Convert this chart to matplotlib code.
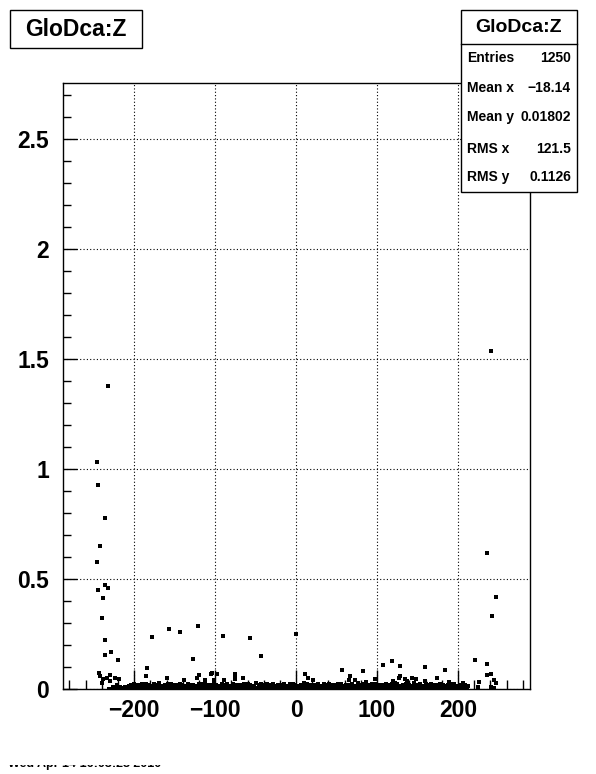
import numpy as np
import matplotlib.pyplot as plt
from matplotlib.patches import Rectangle
from matplotlib.ticker import MultipleLocator

# Pontos isolados (fora da faixa densa)
out_x = [-232.5, -246.5, -245.3, -236.6, -242.8, -246.5, -236.6, -233.0, -245.3, -239.0,
         -240.4, 241.0, 236.2, 247.3, 242.3,
         -236.6, -236.0, -229.0, -220.6, -244.0, -242.0, -230.5, -238.0, -233.7, -240.0,
         -230.5, -224.0, -219.0, -231.7, -225.5, -221.0, -184.8, -186.0, -178.6, -157.6,
         -143.0, -159.6, -120.6, -89.7, -56.4, -42.8, -126.8, -119.4, -121.9, -104.6,
         -103.3, -97.2, -75.0, -75.0, -76.0, -65.0, -113.0, -102.0, -88.5, -139.0,
         0.4, 11.5, 15.2, 21.4, 57.2, 67.0, 65.8, 73.2, 83.1, 97.9,
         107.8, 118.9, 128.8, 128.8, 127.5, 135.0, 137.4, 120.0, 122.6, 86.8,
         159.6, 184.3, 174.4, 221.4, 236.2, 236.2, 241.1, 244.8, 247.3, 226.3,
         225.0, 241.0, 244.8, 143.6, 148.5, 159.6, 189.3, 206.5]
out_y = [1.376, 1.030, 0.926, 0.776, 0.649, 0.576, 0.471, 0.458, 0.449, 0.412,
         0.321, 1.535, 0.617, 0.420, 0.333,
         0.221, 0.155, 0.167, 0.130, 0.071, 0.059, 0.062, 0.044, 0.050, 0.026,
         0.035, 0.049, 0.047, 0.001, 0.003, 0.018, 0.094, 0.059, 0.236, 0.271,
         0.258, 0.049, 0.285, 0.240, 0.230, 0.149, 0.135, 0.062, 0.049, 0.070,
         0.071, 0.067, 0.067, 0.053, 0.044, 0.049, 0.040, 0.040, 0.040, 0.040,
         0.249, 0.067, 0.049, 0.040, 0.085, 0.058, 0.040, 0.040, 0.080, 0.044,
         0.108, 0.126, 0.103, 0.058, 0.049, 0.044, 0.035, 0.035, 0.026, 0.030,
         0.099, 0.085, 0.049, 0.130, 0.112, 0.062, 0.067, 0.040, 0.026, 0.030,
         0.008, 0.008, 0.003, 0.049, 0.044, 0.035, 0.030, 0.026]

# Faixa densa perto de zero (linha inferior)
bandA_x = [-213, -209, -206, -202, -199, -195, -192, -188, -185, -181, -178, -174, -171, -167,
           -164, -160, -157, -153, -150, -146, -143, -139, -136, -132, -129, -125, -122, -118,
           -115, -111, -108, -104, -101, -97, -94, -90, -87, -83, -80, -76, -73, -69, -66, -62,
           -59, -55, -52, -48, -45, -41, -38, -34, -31, -27, -24, -20, -17, -13, -10, -6, -3, 1,
           4, 8, 11, 15, 18, 22, 25, 29, 32, 36, 39, 43, 46, 50, 53, 57, 60, 64, 67, 71, 74, 78,
           81, 85, 88, 92, 95, 99, 102, 106, 109, 113, 116, 120, 123, 127, 130, 134, 137, 141,
           144, 148, 151, 155, 158, 162, 165, 169, 172, 176, 179, 183, 186, 190, 193, 197, 200,
           204, 207, 211]
bandA_y = [0.006, 0.009, 0.005, 0.008, 0.010, 0.006, 0.004, 0.009, 0.007, 0.011,
           0.005, 0.008, 0.006, 0.010, 0.007, 0.004, 0.009, 0.011, 0.006, 0.008,
           0.005, 0.010, 0.007, 0.009, 0.004, 0.006, 0.011, 0.008, 0.005, 0.009,
           0.007, 0.010, 0.006, 0.004, 0.008, 0.011, 0.007, 0.005, 0.009, 0.006,
           0.010, 0.008, 0.004, 0.007, 0.011, 0.005, 0.009, 0.006, 0.008, 0.010,
           0.005, 0.007, 0.004, 0.009, 0.011, 0.006, 0.008, 0.005, 0.010, 0.007,
           0.009, 0.004, 0.006, 0.011, 0.008, 0.005, 0.009, 0.007, 0.010, 0.006,
           0.004, 0.008, 0.011, 0.007, 0.005, 0.009, 0.006, 0.010, 0.008, 0.004,
           0.007, 0.011, 0.005, 0.009, 0.006, 0.008, 0.010, 0.005, 0.007, 0.004,
           0.009, 0.011, 0.006, 0.008, 0.005, 0.010, 0.007, 0.009, 0.004, 0.006,
           0.011, 0.008, 0.005, 0.009, 0.007, 0.010, 0.006, 0.004, 0.008, 0.011,
           0.007, 0.005, 0.009, 0.006, 0.010, 0.008, 0.004, 0.007, 0.011, 0.005,
           0.009, 0.006, 0.008]

# Faixa densa (linha superior, com falhas)
bandB_x = [-211, -204, -200, -197, -190, -186, -183, -176, -172, -169, -162, -158, -155, -148,
           -144, -141, -134, -130, -127, -120, -116, -113, -106, -102, -99, -92, -88, -85, -78,
           -74, -71, -64, -60, -57, -50, -46, -43, -36, -32, -29, -22, -18, -15, -8, -4, -1, 6,
           10, 13, 20, 24, 27, 34, 38, 41, 48, 52, 55, 62, 66, 69, 76, 80, 83, 90, 94, 97, 104,
           108, 111, 118, 122, 125, 132, 136, 139, 146, 150, 153, 160, 164, 167, 174, 178, 181,
           188, 192, 195, 202, 206, 209]
bandB_y = [0.019, 0.023, 0.017, 0.021, 0.025, 0.018, 0.022, 0.020, 0.026, 0.017,
           0.021, 0.024, 0.019, 0.022, 0.018, 0.025, 0.020, 0.017, 0.023, 0.021,
           0.026, 0.018, 0.022, 0.019, 0.024, 0.017, 0.021, 0.025, 0.020, 0.018,
           0.023, 0.022, 0.017, 0.026, 0.019, 0.021, 0.024, 0.018, 0.022, 0.020,
           0.017, 0.025, 0.021, 0.023, 0.019, 0.018, 0.026, 0.022, 0.020, 0.017,
           0.024, 0.021, 0.019, 0.023, 0.018, 0.025, 0.022, 0.020, 0.017, 0.021,
           0.026, 0.019, 0.023, 0.018, 0.022, 0.024, 0.020, 0.017, 0.021, 0.025,
           0.019, 0.022, 0.018, 0.023, 0.020, 0.026, 0.017, 0.021, 0.024, 0.019,
           0.022, 0.018, 0.025, 0.020, 0.017, 0.023, 0.021, 0.019, 0.022, 0.018]

# Faixa densa (linha do meio, preenche as falhas)
bandC_x = [-207, -193, -179, -165, -151, -137, -123, -109, -95, -81, -67, -53, -39, -25,
           -11, 3, 17, 31, 45, 59, 73, 87, 101, 115, 129, 143, 157, 171, 185, 199, 213,
           -214, -218, -222, -226]
bandC_y = [0.014, 0.016, 0.013, 0.015, 0.017, 0.014, 0.013, 0.016, 0.015, 0.014,
           0.017, 0.013, 0.016, 0.014, 0.015, 0.013, 0.017, 0.014, 0.016, 0.015,
           0.013, 0.014, 0.017, 0.016, 0.013, 0.015, 0.014, 0.016, 0.013, 0.015,
           0.012, 0.006, 0.010, 0.004, 0.008]

stat_labels = ['Entries', 'Mean x', 'Mean y', 'RMS x', 'RMS y']
stat_values = ['1250', '\u221218.14', '0.01802', '121.5', '0.1126']
titulo = 'GloDca:Z'

plt.rcParams['font.family'] = ['Liberation Sans', 'DejaVu Sans']
plt.rcParams['axes.unicode_minus'] = True

fig = plt.figure(figsize=(5.96, 7.74), dpi=100)
fig.patch.set_facecolor('white')
ax = fig.add_axes([63/596, 1 - 689/774, 467/596, 606.5/774])

todos_x = out_x + bandA_x + bandB_x + bandC_x
todos_y = out_y + bandA_y + bandB_y + bandC_y
ax.plot(todos_x, todos_y, 's', color='black', markersize=2.5, markeredgewidth=0, zorder=3)

ax.set_xlim(-288, 289)
ax.set_ylim(0, 2.757)
ax.xaxis.set_major_locator(MultipleLocator(100))
ax.xaxis.set_minor_locator(MultipleLocator(20))
ax.yaxis.set_major_locator(MultipleLocator(0.5))
ax.yaxis.set_minor_locator(MultipleLocator(0.1))
ax.yaxis.set_major_formatter(plt.FuncFormatter(lambda v, p: '0' if v == 0 else ('%g' % v)))

ax.tick_params(axis='x', which='major', direction='in', length=13.7, width=1, pad=7,
               labelsize=16.5)
ax.tick_params(axis='x', which='minor', direction='in', length=6.7, width=1)
ax.tick_params(axis='y', which='major', direction='in', length=10, width=1, pad=10,
               labelsize=16.5)
ax.tick_params(axis='y', which='minor', direction='in', length=5.5, width=1)
for lab in ax.get_xticklabels() + ax.get_yticklabels():
    lab.set_fontweight('bold')
for s in ax.spines.values():
    s.set_linewidth(1.0)

ax.grid(True, which='major', linestyle=(0, (1, 2)), color='black', linewidth=0.8)
ax.set_axisbelow(True)

# Caixa do título
fig.add_artist(Rectangle((10/596, 1 - 48/774), 132/596, 38/774, transform=fig.transFigure,
                         facecolor='white', edgecolor='black', linewidth=1))
fig.text(76/596, 1 - 29/774, titulo, ha='center', va='center', fontsize=16.5,
         fontweight='bold')

# Caixa de estatísticas
fig.add_artist(Rectangle((460.7/596, 1 - 192/774), 116.3/596, 182/774,
                         transform=fig.transFigure, facecolor='white', edgecolor='black',
                         linewidth=1, zorder=5))
fig.add_artist(plt.Line2D([460.7/596, 577/596], [1 - 44/774, 1 - 44/774],
                          transform=fig.transFigure, color='black', linewidth=1, zorder=6))
fig.text(519/596, 1 - 27/774, titulo, ha='center', va='center', fontsize=14,
         fontweight='bold', zorder=7)
linhas_y = [58, 88, 117, 149, 177]
for lbl, val, yy in zip(stat_labels, stat_values, linhas_y):
    fig.text(467/596, 1 - yy/774, lbl, ha='left', va='center', fontsize=10,
             fontweight='bold', zorder=7)
    fig.text(571/596, 1 - yy/774, val, ha='right', va='center', fontsize=10,
             fontweight='bold', zorder=7)

# Carimbo de data parcialmente escondido no rodapé
fig.text(8/596, 1 - 767/774, 'Wed Apr 14 16:03:28 2010', ha='left', va='baseline',
         fontsize=9, fontweight='bold', zorder=2)
fig.add_artist(Rectangle((0, 1 - 764.5/774), 200/596, 30/774, transform=fig.transFigure,
                         facecolor='white', edgecolor='none', zorder=3))

fig.savefig('out.png', dpi=100, facecolor='white')
